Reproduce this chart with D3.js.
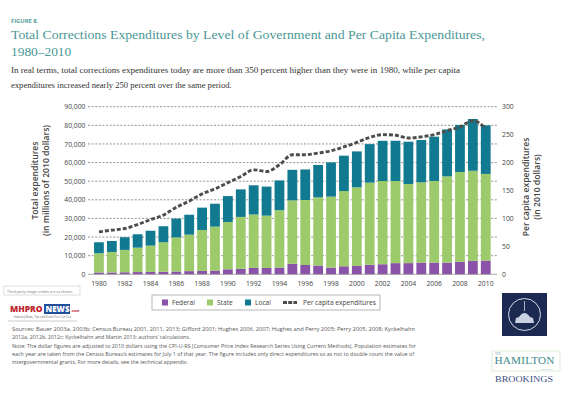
<!DOCTYPE html>
<html>
<head>
<meta charset="utf-8">
<script src="https://cdn.jsdelivr.net/npm/d3@7"></script>
<style>
  body { margin: 0; background: #fff; }
  svg { display: block; }
</style>
</head>
<body>
<div id="chart"></div>
<script>
// values (millions of 2010 dollars)
const years = [1980,1981,1982,1983,1984,1985,1986,1987,1988,1989,1990,1991,1992,1993,1994,1995,
               1996,1997,1998,1999,2000,2001,2002,2003,2004,2005,2006,2007,2008,2009,2010];
const federal = [1000,1000,1100,1200,1300,1400,1500,1700,1800,2000,2700,2900,3400,3400,3600,5700,
                 5000,4700,3600,4300,4500,5100,5400,6000,6000,6300,6300,6300,6700,7200,7400];
const state = [10300,11000,12000,13100,14100,15800,18300,19600,22000,23600,25400,27900,28700,28100,30800,34000,
               34900,36600,38100,40400,42200,44100,44700,44100,42500,43100,43800,46300,48200,48400,46500];
const local = [5900,5900,6800,7200,8000,8600,10100,10700,12000,12300,13900,14800,15700,15600,16000,16400,
               16400,17400,18400,19000,19300,20700,21600,21600,22700,22700,23800,25200,25300,27800,26100];
const perCapita = [76,79,82,89,98,106,120,131,144,153,164,175,187,184,196,214,
                   214,217,221,228,236,245,250,249,244,246,250,257,264,275,261];
const leftTicks = [0,10000,20000,30000,40000,50000,60000,70000,80000,90000];
const rightTicks = [0,50,100,150,200,250,300];
const xLabels = [1980,1982,1984,1986,1988,1990,1992,1994,1996,1998,2000,2002,2004,2006,2008,2010];
const seriesNames = ["Federal","State","Local"];
const seriesColors = ["#8a52a8","#9dcb6b","#117a91"];

const sources = [
  "Sources: Bauer 2003a, 2003b; Census Bureau 2001, 2011, 2013; Gifford 2001; Hughes 2006, 2007; Hughes and Perry 2005; Perry 2005, 2008; Kyckelhahn",
  "2012a, 2012b, 2012c; Kyckelhahn and Martin 2013; authors\u2019 calculations.",
  "Note: The dollar figures are adjusted to 2010 dollars using the CPI-U-RS (Consumer Price Index Research Series Using Current Methods). Population estimates for",
  "each year are taken from the Census Bureau\u2019s estimates for July 1 of that year. The figure includes only direct expenditures so as not to double count the value of",
  "intergovernmental grants. For more details, see the technical appendix."
];

const W = 575, H = 395;
const sans = "'Open Sans', 'Noto Sans', sans-serif";
const serif = "'Liberation Serif', 'DejaVu Serif', serif";

const svg = d3.select("#chart").append("svg").attr("width", W).attr("height", H);
svg.append("rect").attr("width", W).attr("height", H).attr("fill", "#fff");

// header
svg.append("text").attr("x", 11).attr("y", 23)
  .attr("font-family", sans).attr("font-size", 5.8).attr("font-weight", 700)
  .attr("fill", "#4f9c9c").text("FIGURE 8.");
svg.append("text").attr("x", 11).attr("y", 39)
  .attr("font-family", serif).attr("font-size", 13.4).attr("fill", "#4a9797")
  .attr("textLength", 474).attr("lengthAdjust", "spacingAndGlyphs")
  .text("Total Corrections Expenditures by Level of Government and Per Capita Expenditures,");
svg.append("text").attr("x", 11).attr("y", 56)
  .attr("font-family", serif).attr("font-size", 13.4).attr("fill", "#4a9797")
  .text("1980\u20132010");
svg.append("text").attr("x", 11).attr("y", 73)
  .attr("font-family", serif).attr("font-size", 8.6).attr("fill", "#333")
  .attr("textLength", 449).attr("lengthAdjust", "spacingAndGlyphs")
  .text("In real terms, total corrections expenditures today are more than 350 percent higher than they were in 1980, while per capita");
svg.append("text").attr("x", 11).attr("y", 87.5)
  .attr("font-family", serif).attr("font-size", 8.6).attr("fill", "#333")
  .text("expenditures increased nearly 250 percent over the same period.");

// scales
const x = d3.scaleBand().domain(years).range([92.5, 492.2]).paddingInner(0.24).paddingOuter(0.12);
const y = d3.scaleLinear().domain([0, 90000]).range([274.3, 106.7]);
const y2 = d3.scaleLinear().domain([0, 300]).range([274.3, 106.7]);

// gridlines
const grid = svg.append("g");
grid.selectAll("line").data(leftTicks.slice(1)).join("line")
  .attr("x1", 88).attr("x2", 497)
  .attr("y1", d => y(d)).attr("y2", d => y(d))
  .attr("stroke", "#666").attr("stroke-width", 0.7).attr("stroke-dasharray", "2,1.6");

// left axis
const yAxis = svg.append("g").attr("transform", "translate(88,0)")
  .call(d3.axisLeft(y).tickValues(leftTicks).tickSize(0).tickPadding(2.5).tickFormat(d3.format(",")));
yAxis.select(".domain").remove();
yAxis.selectAll("text").attr("font-family", sans).attr("font-size", 6.8).attr("fill", "#444");

// right axis
const yAxis2 = svg.append("g").attr("transform", "translate(497,0)")
  .call(d3.axisRight(y2).tickValues(rightTicks).tickSize(0).tickPadding(5));
yAxis2.select(".domain").remove();
yAxis2.selectAll("text").attr("font-family", sans).attr("font-size", 6.8).attr("fill", "#444");

// stacked bars
const rows = years.map((yr, i) => ({ year: yr, Federal: federal[i], State: state[i], Local: local[i] }));
const stacked = d3.stack().keys(seriesNames)(rows);
svg.append("g").selectAll("g").data(stacked).join("g")
  .attr("fill", (d, i) => seriesColors[i])
  .selectAll("rect").data(d => d).join("rect")
  .attr("x", d => x(d.data.year))
  .attr("width", x.bandwidth())
  .attr("y", d => y(d[1]))
  .attr("height", d => y(d[0]) - y(d[1]));

// baseline
svg.append("line").attr("x1", 88).attr("x2", 497).attr("y1", y(0)).attr("y2", y(0))
  .attr("stroke", "#888").attr("stroke-width", 0.7);

// per capita line
const line = d3.line().x((d, i) => x(years[i]) + x.bandwidth() / 2).y(d => y2(d)).curve(d3.curveMonotoneX);
svg.append("path").datum(perCapita)
  .attr("d", line).attr("fill", "none")
  .attr("stroke", "#4d4d4d").attr("stroke-width", 2.9).attr("stroke-dasharray", "4,2");

// x labels
const xAxis = svg.append("g").attr("transform", `translate(0,${y(0)})`)
  .call(d3.axisBottom(x).tickValues(xLabels).tickSize(0).tickPadding(7));
xAxis.select(".domain").remove();
xAxis.selectAll("text").attr("font-family", sans).attr("font-size", 6.8).attr("fill", "#444");

// axis titles
const lt = svg.append("text").attr("transform", "translate(38,180.5) rotate(-90)")
  .attr("text-anchor", "middle").attr("font-family", sans).attr("font-weight", 600)
  .attr("font-size", 8.6).attr("fill", "#444");
lt.append("tspan").attr("x", 0).attr("dy", 0).text("Total expenditures");
lt.append("tspan").attr("x", 0).attr("dy", 11).text("(in millions of 2010 dollars)");

const rt = svg.append("text").attr("transform", "translate(529,187) rotate(-90)")
  .attr("text-anchor", "middle").attr("font-family", sans).attr("font-weight", 600)
  .attr("font-size", 8.6).attr("fill", "#444");
rt.append("tspan").attr("x", 0).attr("dy", 0).text("Per capita expenditures");
rt.append("tspan").attr("x", 0).attr("dy", 11).text("(in 2010 dollars)");

// legend
const lg = svg.append("g").attr("transform", "translate(152,295)");
lg.append("rect").attr("width", 228).attr("height", 15).attr("fill", "#fff")
  .attr("stroke", "#999").attr("stroke-width", 0.7);
const legendX = [10, 55, 93];
seriesNames.forEach((n, i) => {
  lg.append("rect").attr("x", legendX[i]).attr("y", 4.5).attr("width", 6).attr("height", 6).attr("fill", seriesColors[i]);
  lg.append("text").attr("x", legendX[i] + 10).attr("y", 10).attr("font-family", sans)
    .attr("font-size", 6.6).attr("fill", "#444").text(n);
});
lg.append("line").attr("x1", 131).attr("x2", 145).attr("y1", 7.5).attr("y2", 7.5)
  .attr("stroke", "#4d4d4d").attr("stroke-width", 2.8).attr("stroke-dasharray", "4,1.2");
lg.append("text").attr("x", 151).attr("y", 10).attr("font-family", sans)
  .attr("font-size", 6.6).attr("fill", "#444").text("Per capita expenditures");

// sources and note
svg.append("g").selectAll("text").data(sources).join("text")
  .attr("x", 12).attr("y", (d, i) => [331, 339, 348, 356, 364][i])
  .attr("font-family", sans).attr("font-size", 5.3).attr("fill", "#555")
  .attr("textLength", (d, i) => [403, null, 404, 402, null][i])
  .attr("lengthAdjust", "spacingAndGlyphs")
  .text(d => d);

// third-party credit + watermark logo
svg.append("rect").attr("x", 4).attr("y", 286).attr("width", 76).attr("height", 9)
  .attr("fill", "#fff").attr("stroke", "#bbb").attr("stroke-width", 0.5);
svg.append("text").attr("x", 7).attr("y", 292.5).attr("font-family", sans).attr("font-size", 3.6)
  .attr("fill", "#777").text("Third-party image credits are as shown.");
const mh = svg.append("g").attr("transform", "translate(10,300)");
mh.append("text").attr("x", 0).attr("y", 12).attr("font-family", sans).attr("font-weight", 800)
  .attr("font-size", 8.5).attr("fill", "#c0262d").text("MHPRO");
mh.append("rect").attr("x", 34).attr("y", 4).attr("width", 26).attr("height", 10).attr("fill", "#1f4f9a");
mh.append("text").attr("x", 35.5).attr("y", 12).attr("font-family", sans).attr("font-weight", 800)
  .attr("font-size", 8).attr("fill", "#fff").text("NEWS");
mh.append("text").attr("x", 61).attr("y", 12).attr("font-family", sans).attr("font-weight", 700)
  .attr("font-size", 3.5).attr("fill", "#c0262d").text(".com");
mh.append("text").attr("x", 4).attr("y", 18).attr("font-family", sans)
  .attr("font-size", 2.8).attr("fill", "#666").text("Industry News, Tips and Views Pros Can Use");
mh.append("line").attr("x1", -2).attr("x2", 67).attr("y1", 21).attr("y2", 21).attr("stroke", "#ccc").attr("stroke-width", 1);

// Hamilton Project / Brookings logos
const hp = svg.append("g");
hp.append("rect").attr("x", 502).attr("y", 293).attr("width", 45).attr("height", 43).attr("fill", "#1c2a52");
hp.append("circle").attr("cx", 524.5).attr("cy", 314.5).attr("r", 16).attr("fill", "none")
  .attr("stroke", "#e8ecf5").attr("stroke-width", 0.9);
hp.append("path").attr("d", "M515,323 L516,318 L519,317 Q524.5,309 530,317 L533,318 L534,323 Z").attr("fill", "#c9d0e2");
hp.append("line").attr("x1", 524.5).attr("x2", 524.5).attr("y1", 301).attr("y2", 311)
  .attr("stroke", "#c9d0e2").attr("stroke-width", 0.8);
hp.append("rect").attr("x", 492).attr("y", 351).attr("width", 68).attr("height", 20).attr("fill", "none")
  .attr("stroke", "#cfe3c3").attr("stroke-width", 0.7);
hp.append("text").attr("x", 495).attr("y", 354.5).attr("font-family", serif).attr("font-size", 3)
  .attr("fill", "#7aa").text("THE");
hp.append("text").attr("x", 494.5).attr("y", 364).attr("font-family", serif)
  .attr("font-size", 11.2).attr("letter-spacing", 0.2).attr("fill", "#3d8a8a")
  .text("HAMILTON");
hp.append("text").attr("x", 541).attr("y", 369.6).attr("font-family", serif).attr("font-size", 2.8)
  .attr("fill", "#7aa").text("PROJECT");
hp.append("text").attr("x", 495).attr("y", 382).attr("font-family", serif)
  .attr("font-size", 8.6).attr("fill", "#3d4f86").attr("textLength", 58).attr("lengthAdjust", "spacingAndGlyphs")
  .text("BROOKINGS");
</script>
</body>
</html>
